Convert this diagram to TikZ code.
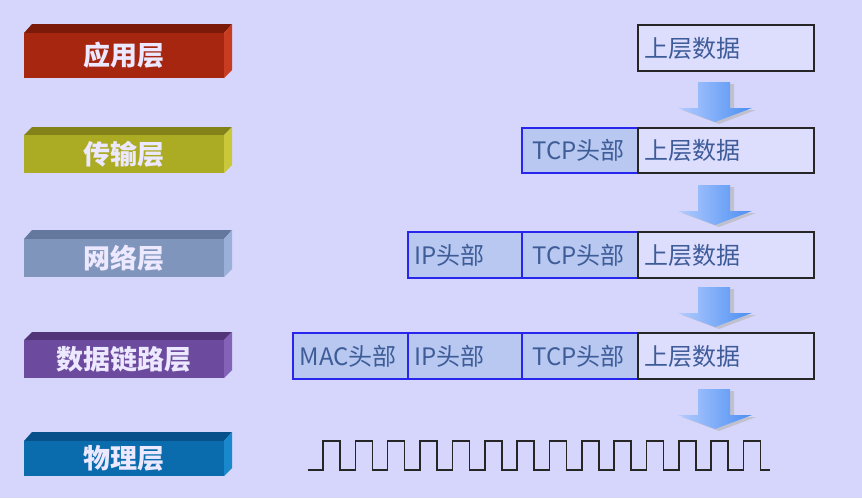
\documentclass[tikz,border=0pt]{standalone}
\usepackage{fontspec}
\newfontfamily\cjk{Noto Sans CJK SC}
\usetikzlibrary{shadings}
\definecolor{bgc}{HTML}{D6D6FC}
\definecolor{datafill}{HTML}{DDDDFE}
\definecolor{hdrfill}{HTML}{B8C8F0}
\definecolor{hdrline}{HTML}{2626EE}
\definecolor{txtc}{HTML}{3E5C98}
\definecolor{lbltxt}{HTML}{ECE8FF}
\definecolor{redF}{HTML}{A62610}\definecolor{redT}{HTML}{7C1A0A}\definecolor{redR}{HTML}{C83C22}
\definecolor{oliF}{HTML}{ABAB24}\definecolor{oliT}{HTML}{828218}\definecolor{oliR}{HTML}{C8C83A}
\definecolor{gryF}{HTML}{8095BC}\definecolor{gryT}{HTML}{64789E}\definecolor{gryR}{HTML}{9AB0D8}
\definecolor{purF}{HTML}{6C4A9E}\definecolor{purT}{HTML}{523478}\definecolor{purR}{HTML}{8462B8}
\definecolor{bluF}{HTML}{0A6CAC}\definecolor{bluT}{HTML}{08508A}\definecolor{bluR}{HTML}{1A88CC}
\definecolor{arrL}{HTML}{B4CCFF}
\definecolor{arrR}{HTML}{4A8EF2}
\tikzset{
  lbl/.style={font=\cjk\bfseries\fontsize{27}{27}\selectfont, text=lbltxt},
  hdr/.style={draw=hdrline, line width=1.8pt, fill=hdrfill},
  dat/.style={draw=black!85, line width=1.8pt, fill=datafill},
  dtxt/.style={font=\cjk\fontsize{24}{24}\selectfont, text=txtc, anchor=west},
  wave/.style={draw=black!85, line width=1.5pt}
}
% \layerbox{name}{top of top face}{front top}{front bottom}{F}{T}{R}{text}
\newcommand{\layerbox}[8]{%
  \fill[#6] (24,#3) -- (32,#2) -- (232,#2) -- (224,#3) -- cycle;
  \fill[#7] (224,#3) -- (232,#2) -- (232,#4-8) -- (224,#4) -- cycle;
  \fill[#5] (24,#3) rectangle (224,#4);
  \node[lbl] (#1) at (124,{(#3+#4)/2}) {#8};
}
\newcommand{\blockarrow}[2]{% top y, name
  \begin{scope}[shift={(0,#1)}]
    \fill[black!30, opacity=0.6] (702,2) -- (734,2) -- (734,28) -- (756,28) -- (719,42) -- (682,28) -- (702,28) -- cycle;
    \shade[left color=arrL, right color=arrR] (698,0) -- (730,0) -- (730,26) -- (752,26) -- (715,40) -- (678,26) -- (698,26) -- cycle;
    \coordinate (#2) at (715,40);
  \end{scope}
}
\begin{document}
\begin{tikzpicture}[x=1pt,y=-1pt]
\useasboundingbox (0,0) rectangle (862,498);
\fill[bgc] (0,0) rectangle (862,498);

\layerbox{L1}{24}{33}{78}{redF}{redT}{redR}{应用层}
\layerbox{L2}{127}{135}{173}{oliF}{oliT}{oliR}{传输层}
\layerbox{L3}{230}{239}{277}{gryF}{gryT}{gryR}{网络层}
\layerbox{L4}{332}{340}{378}{purF}{purT}{purR}{数据链路层}
\layerbox{L5}{432}{441}{476}{bluF}{bluT}{bluR}{物理层}

% row 1
\draw[dat] (638,25) rectangle (814,71);
\node[dtxt] (d1) at (641,48) {上层数据};

% row 2
\draw[hdr] (522,128) rectangle (638,173);
\draw[dat] (638,128) rectangle (814,173);
\node[dtxt] (t2) at (529,150.5) {TCP头部};
\node[dtxt] (d2) at (641,150.5) {上层数据};

% row 3
\draw[hdr] (408,232) rectangle (522,278);
\draw[hdr] (522,232) rectangle (638,278);
\draw[dat] (638,232) rectangle (814,278);
\node[dtxt] (i3) at (411,255) {IP头部};
\node[dtxt] (t3) at (529,255) {TCP头部};
\node[dtxt] (d3) at (641,255) {上层数据};

% row 4
\draw[hdr] (293,333) rectangle (408,379);
\draw[hdr] (408,333) rectangle (522,379);
\draw[hdr] (522,333) rectangle (638,379);
\draw[dat] (638,333) rectangle (814,379);
\node[dtxt] (m4) at (296,356) {MAC头部};
\node[dtxt] (i4) at (411,356) {IP头部};
\node[dtxt] (t4) at (529,356) {TCP头部};
\node[dtxt] (d4) at (641,356) {上层数据};

% arrows
\blockarrow{82}{a1}
\blockarrow{185}{a2}
\blockarrow{287}{a3}
\blockarrow{389}{a4}

% square wave
\draw[wave, line join=miter] (308,470)
  \foreach \i in {0,...,13} {
    -- ({323+32.35*\i},470) -- ({323+32.35*\i},441) -- ({340+32.35*\i},441) -- ({340+32.35*\i},470)
  } -- (770,470);
\end{tikzpicture}
\end{document}
